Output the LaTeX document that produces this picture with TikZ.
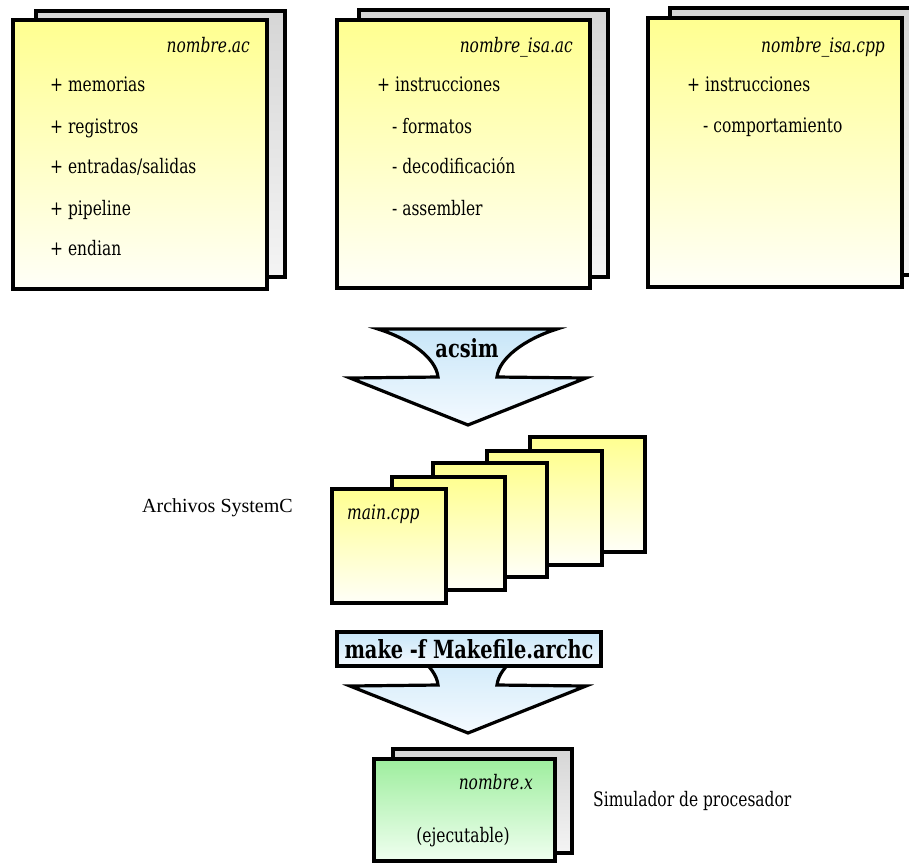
\documentclass[tikz,border=0pt]{standalone}
\usepackage{fontspec}
\setmainfont{DejaVu Serif Condensed}[FakeStretch=0.86]
\newfontfamily\timesfont{Liberation Serif}
\definecolor{paperTop}{HTML}{FFFF90}
\definecolor{paperBot}{HTML}{FFFFF8}
\definecolor{backTop}{HTML}{D6D6D6}
\definecolor{backBot}{HTML}{F4F4F4}
\definecolor{flowTop}{HTML}{C8E6F8}
\definecolor{flowBot}{HTML}{F4FAFF}
\definecolor{exeTop}{HTML}{9EEE9E}
\definecolor{exeBot}{HTML}{F0FFF0}
\tikzset{
  outline/.style={draw=black, line width=3.2pt, line join=miter},
  paper/.style={outline, top color=paperTop, bottom color=paperBot},
  backsheet/.style={outline, top color=backTop, bottom color=backBot},
  flowarrow/.style={outline, top color=flowTop, bottom color=flowBot},
  exesheet/.style={outline, top color=exeTop, bottom color=exeBot},
  txt/.style={inner sep=0pt, font=\fontsize{20}{23}\selectfont},
  ttl/.style={txt, font=\fontsize{20}{23}\selectfont\itshape, anchor=base east},
  item/.style={txt, anchor=base west},
  cmd/.style={inner sep=0pt, font=\fontsize{25}{29}\selectfont\bfseries},
}
\begin{document}
\begin{tikzpicture}[x=1pt, y=-1pt]
\useasboundingbox (0,0) rectangle (909,863);

% ---- source descriptions ----
\path[backsheet] (36,11) rectangle (285,277);
\path[paper] (13,20) rectangle (267,289);
\node[ttl] (t1) at (250,52) {nombre.ac};
\node[item] (a1) at (50,91) {+ memorias};
\node[item] (a2) at (50,133) {+ registros};
\node[item] (a3) at (50,173) {+ entradas/salidas};
\node[item] (a4) at (50,215) {+ pipeline};
\node[item] (a5) at (50,255) {+ endian};

\path[backsheet] (359,10) rectangle (608,277);
\path[paper] (337,20) rectangle (590,288);
\node[ttl] (t2) at (573,52) {nombre\_isa.ac};
\node[item] (b1) at (377,91) {+ instrucciones};
\node[item] (b2) at (392,133) {- formatos};
\node[item] (b3) at (392,173) {- decodificación};
\node[item] (b4) at (392,215) {- assembler};

\path[backsheet] (670,8) rectangle (930,275);
\path[paper] (648,18) rectangle (902,287);
\node[ttl] (t3) at (885,52) {nombre\_isa.cpp};
\node[item] (c1) at (687,91) {+ instrucciones};
\node[item] (c2) at (703,132) {- comportamiento};

% ---- acsim step ----
\path[flowarrow] (378,329) .. controls (410,339) and (436,358) .. (438,377)
  -- (350,378) -- (468,425) -- (586,378) -- (497,377)
  .. controls (499,358) and (525,339) .. (557,329) -- cycle;
\node[cmd] (acsim) at (467,348) {acsim};

% ---- generated SystemC files ----
\path[paper] (530,437) rectangle (645,552);
\path[paper] (487,451) rectangle (602,565);
\path[paper] (433,463) rectangle (547,577);
\path[paper] (392,477) rectangle (505,590);
\path[paper] (332,489) rectangle (446,603);
\node[txt, font=\fontsize{20}{23}\selectfont\itshape, anchor=base west] (mainf) at (347,519) {main.cpp};
\node[txt, font=\fontsize{20}{24}\selectfont\timesfont, anchor=base west] (sysc) at (142,512) {Archivos SystemC};

% ---- make step ----
\path[flowarrow] (378,637) .. controls (410,647) and (436,666) .. (438,685)
  -- (350,686) -- (468,733) -- (586,686) -- (497,685)
  .. controls (499,666) and (525,647) .. (557,637) -- cycle;
\path[outline, top color=flowTop, bottom color=flowBot] (337,632) rectangle (601,666);
\node[cmd] (make) at (469,649) {make -f Makefile.archc};

% ---- executable ----
\path[backsheet] (393,749) rectangle (572,853);
\path[exesheet] (374,759) rectangle (555,861);
\node[ttl] (exe) at (533,789) {nombre.x};
\node[txt, anchor=base] (ejec) at (463,842) {(ejecutable)};
\node[txt, anchor=base west] (simu) at (593,806) {Simulador de procesador};
\end{tikzpicture}
\end{document}
